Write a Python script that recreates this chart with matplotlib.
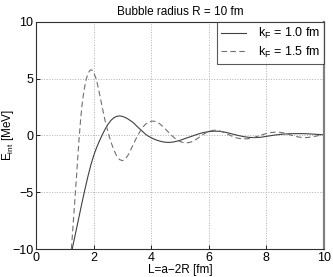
import numpy as np
import matplotlib
matplotlib.use("Agg")
import matplotlib.pyplot as plt

plt.rcParams["font.family"] = ["Liberation Sans", "DejaVu Sans"]
plt.rcParams["mathtext.fontset"] = "custom"
plt.rcParams["mathtext.rm"] = "Liberation Sans"
plt.rcParams["mathtext.it"] = "Liberation Sans"

# k_F = 1.0 fm (solid)
x_k10 = [1.26, 1.3, 1.4, 1.5, 1.6, 1.7, 1.8, 1.9, 2.0, 2.1, 2.2, 2.3, 2.4,
         2.5, 2.6, 2.7, 2.8, 2.9, 3.0, 3.1, 3.2, 3.3, 3.4, 3.5, 3.6, 3.7,
         3.8, 3.9, 4.0, 4.1, 4.2, 4.3, 4.4, 4.5, 4.6, 4.7, 4.8, 4.9, 5.0,
         5.2, 5.4, 5.6, 5.8, 6.0, 6.2, 6.4, 6.6, 6.8, 7.0, 7.2, 7.4, 7.6,
         7.8, 8.0, 8.2, 8.4, 8.6, 8.8, 9.0, 9.2, 9.4, 9.6, 9.8, 10.0]
e_k10 = [-10.0, -9.5, -8.3, -7.1, -5.9, -4.75, -3.65, -2.65, -1.8, -1.1,
         -0.5, 0.05, 0.55, 0.98, 1.32, 1.55, 1.68, 1.72, 1.68, 1.58, 1.44,
         1.27, 1.08, 0.82, 0.58, 0.35, 0.12, -0.06, -0.2, -0.32, -0.42,
         -0.5, -0.56, -0.6, -0.61, -0.6, -0.56, -0.5, -0.43, -0.25, -0.08,
         0.1, 0.25, 0.34, 0.38, 0.36, 0.27, 0.14, 0.01, -0.1, -0.17, -0.19,
         -0.16, -0.08, 0.0, 0.07, 0.12, 0.15, 0.16, 0.16, 0.15, 0.12, 0.09,
         0.06]

# k_F = 1.5 fm (dashed)
x_k15 = [1.23, 1.3, 1.35, 1.4, 1.45, 1.5, 1.55, 1.6, 1.65, 1.7, 1.75, 1.8,
         1.85, 1.9, 1.95, 2.0, 2.05, 2.1, 2.2, 2.3, 2.4, 2.5, 2.6, 2.7, 2.8,
         2.9, 3.0, 3.1, 3.2, 3.3, 3.4, 3.5, 3.6, 3.7, 3.8, 3.9, 4.0, 4.1,
         4.2, 4.3, 4.4, 4.5, 4.6, 4.7, 4.8, 4.9, 5.0, 5.1, 5.2, 5.3, 5.4,
         5.5, 5.6, 5.7, 5.8, 5.9, 6.0, 6.1, 6.2, 6.3, 6.4, 6.6, 6.8, 7.0,
         7.2, 7.4, 7.6, 7.8, 8.0, 8.2, 8.4, 8.6, 8.8, 9.0, 9.2, 9.4, 9.6,
         9.8, 10.0]
e_k15 = [-10.0, -7.5, -5.7, -3.9, -2.0, -0.2, 1.4, 2.7, 3.65, 4.4, 5.0,
         5.4, 5.65, 5.78, 5.75, 5.55, 5.25, 4.9, 3.75, 2.5, 1.3, 0.3, -0.55,
         -1.25, -1.8, -2.12, -2.22, -2.08, -1.72, -1.22, -0.68, -0.15, 0.3,
         0.7, 0.98, 1.16, 1.25, 1.26, 1.18, 1.02, 0.8, 0.55, 0.28, 0.02,
         -0.2, -0.4, -0.53, -0.62, -0.65, -0.63, -0.56, -0.44, -0.28, -0.1,
         0.08, 0.23, 0.35, 0.43, 0.46, 0.44, 0.38, 0.18, -0.06, -0.24, -0.31,
         -0.28, -0.15, 0.02, 0.17, 0.27, 0.3, 0.22, 0.07, -0.08, -0.17,
         -0.19, -0.12, -0.02, 0.06]

x_ticks = [0, 2, 4, 6, 8, 10]
y_ticks = [-10, -5, 0, 5, 10]

fig = plt.figure(figsize=(3.33, 2.77), dpi=100)
ax = fig.add_axes([0.108, 0.101, 0.865, 0.82])

ax.plot(x_k10, e_k10, color="#404040", lw=0.8, label=r"k$_F$ = 1.0 fm")
ax.plot(x_k15, e_k15, color="#707070", lw=0.8, ls=(0, (5, 3)),
        label=r"k$_F$ = 1.5 fm")

ax.set_xlim(0, 10)
ax.set_ylim(-10, 10)
ax.set_xticks(x_ticks)
ax.set_yticks(y_ticks)
ax.grid(True, ls=":", color="#b0b0b0", lw=0.7)
ax.tick_params(direction="in", labelsize=9, length=3, width=0.6, pad=2)
for s in ax.spines.values():
    s.set_color("#303030")
    s.set_linewidth(0.8)
ax.spines["right"].set_color("#808080")
ax.spines["right"].set_linewidth(1.6)

ax.set_title("Bubble radius R = 10 fm", fontsize=8.5, pad=5)
ax.set_xlabel("L=a\u22122R [fm]", fontsize=8.5, labelpad=0)
ax.set_ylabel(r"E$_{int}$ [MeV]", fontsize=8.5)
ax.yaxis.set_label_coords(-0.07, 0.5)

leg = ax.legend(loc="upper right", fontsize=9, fancybox=False,
                borderaxespad=0, handlelength=2.0, labelspacing=0.25,
                borderpad=0.35, handletextpad=0.9)
leg.get_frame().set_edgecolor("#303030")
leg.get_frame().set_linewidth(0.8)

fig.savefig("out.png", dpi=100)
